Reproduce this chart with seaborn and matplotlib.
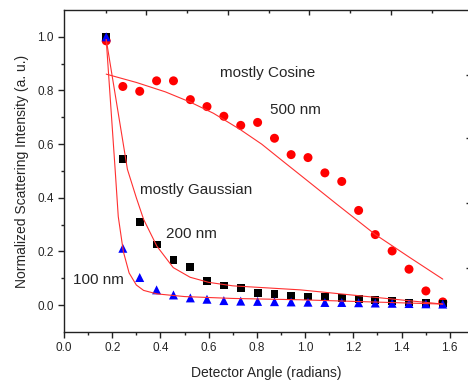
import numpy as np
import pandas as pd
import matplotlib
matplotlib.use("Agg")
import matplotlib.pyplot as plt
import seaborn as sns

# ---- data ----
angle = [0.175, 0.244, 0.314, 0.384, 0.454, 0.524, 0.593, 0.663, 0.733,
         0.803, 0.873, 0.942, 1.012, 1.082, 1.152, 1.222, 1.291, 1.361,
         1.431, 1.501, 1.571]
int_500 = [0.985, 0.815, 0.797, 0.836, 0.836, 0.766, 0.740, 0.704, 0.670,
           0.681, 0.622, 0.561, 0.550, 0.493, 0.461, 0.353, 0.263, 0.202,
           0.134, 0.053, 0.012]
int_200 = [1.0, 0.545, 0.311, 0.226, 0.167, 0.141, 0.089, 0.073, 0.064,
           0.046, 0.041, 0.034, 0.032, 0.029, 0.027, 0.022, 0.020, 0.015,
           0.010, 0.007, 0.006]
int_100 = [1.0, 0.212, 0.103, 0.057, 0.038, 0.027, 0.022, 0.017, 0.015,
           0.014, 0.013, 0.012, 0.011, 0.010, 0.010, 0.009, 0.008, 0.007,
           0.006, 0.005, 0.004]

fit_500_x = [0.175, 0.30, 0.42, 0.523, 0.62, 0.73, 0.82, 0.91, 0.98, 1.129,
             1.29, 1.43, 1.571]
fit_500_y = [0.861, 0.830, 0.795, 0.757, 0.715, 0.655, 0.600, 0.535, 0.485,
             0.378, 0.264, 0.180, 0.097]
fit_200_x = [0.175, 0.263, 0.30, 0.33, 0.385, 0.453, 0.523, 0.60, 0.70,
             0.98, 1.571]
fit_200_y = [0.99, 0.506, 0.40, 0.32, 0.22, 0.14, 0.104, 0.085, 0.072,
             0.057, 0.004]
fit_100_x = [0.175, 0.212, 0.225, 0.246, 0.27, 0.30, 0.33, 0.385, 0.50,
             0.70, 0.98, 1.571]
fit_100_y = [0.99, 0.506, 0.33, 0.20, 0.12, 0.075, 0.055, 0.042, 0.032,
             0.025, 0.020, 0.004]

top_ticks_major = [0.340, 0.679, 1.018, 1.357]
top_ticks_minor = [0.174, 0.510, 0.849, 1.188, 1.527]
right_ticks = [0.140, 0.382, 0.624, 0.859]

# ---- styling ----
sns.set_theme(style="ticks")
plt.rcParams['font.family'] = ['Liberation Sans', 'DejaVu Sans']

fig = plt.figure(figsize=(4.68, 3.83), dpi=100)
ax = fig.add_axes([0.1368, 0.1332, 0.8654, 0.8407])

pts = pd.DataFrame({"angle": angle, "i500": int_500, "i200": int_200, "i100": int_100})

sns.scatterplot(data=pts, x="angle", y="i500", ax=ax, marker="o", s=42,
                color="#ff0000", edgecolor="none", linewidth=0, zorder=3)
sns.scatterplot(data=pts, x="angle", y="i200", ax=ax, marker="s", s=32,
                color="#000000", edgecolor="none", linewidth=0, zorder=4)
sns.scatterplot(data=pts, x="angle", y="i100", ax=ax, marker="^", s=42,
                color="#0000ff", edgecolor="none", linewidth=0, zorder=5)

for fx, fy in [(fit_500_x, fit_500_y), (fit_200_x, fit_200_y), (fit_100_x, fit_100_y)]:
    sns.lineplot(x=fx, y=fy, ax=ax, color="#ff3030", linewidth=0.8,
                 sort=False, estimator=None, zorder=6)

ax.set_xlim(0, 1.68)
ax.set_ylim(-0.1, 1.1)
ax.set_xticks(np.arange(0, 1.61, 0.2))
ax.set_xticks(np.arange(0.1, 1.61, 0.2), minor=True)
ax.set_yticks(np.arange(0, 1.01, 0.2))
ax.set_yticks(np.arange(0.1, 1.01, 0.2), minor=True)
ax.xaxis.set_major_formatter(matplotlib.ticker.FormatStrFormatter('%.1f'))
ax.yaxis.set_major_formatter(matplotlib.ticker.FormatStrFormatter('%.1f'))
ax.tick_params(which='major', direction='out', length=4.5, width=1.0,
               labelsize=8.5, color='#222222', pad=3)
ax.tick_params(which='minor', direction='out', length=2.5, width=1.0, color='#222222')

ax.set_xlabel("Detector Angle (radians)", fontsize=10, labelpad=8)
ax.set_ylabel("Normalized Scattering Intensity (a. u.)", fontsize=10, labelpad=6)

for s in ax.spines.values():
    s.set_linewidth(1.0)
    s.set_color('#222222')
    s.set_visible(True)

# top and right tick marks (no labels)
axt = ax.twiny()
axt.set_xlim(ax.get_xlim())
axt.set_xticks(top_ticks_major)
axt.set_xticks(top_ticks_minor, minor=True)
axt.tick_params(which='major', direction='in', length=3.5, width=1.0, labeltop=False, color='#222222')
axt.tick_params(which='minor', direction='in', length=2.2, width=1.0, color='#222222')
axr = ax.twinx()
axr.set_ylim(ax.get_ylim())
axr.set_yticks(right_ticks)
axr.tick_params(which='major', direction='in', length=2.5, width=1.0, labelright=False, color='#222222')
for a in (axt, axr):
    for s in a.spines.values():
        s.set_visible(False)

ax.text(0.845, 0.867, "mostly Cosine", fontsize=11, ha='center', va='center')
ax.text(0.855, 0.729, "500 nm", fontsize=11, ha='left', va='center')
ax.text(0.315, 0.429, "mostly Gaussian", fontsize=11, ha='left', va='center')
ax.text(0.422, 0.264, "200 nm", fontsize=11, ha='left', va='center')
ax.text(0.036, 0.093, "100 nm", fontsize=11, ha='left', va='center')

fig.savefig("out.png", dpi=100)
